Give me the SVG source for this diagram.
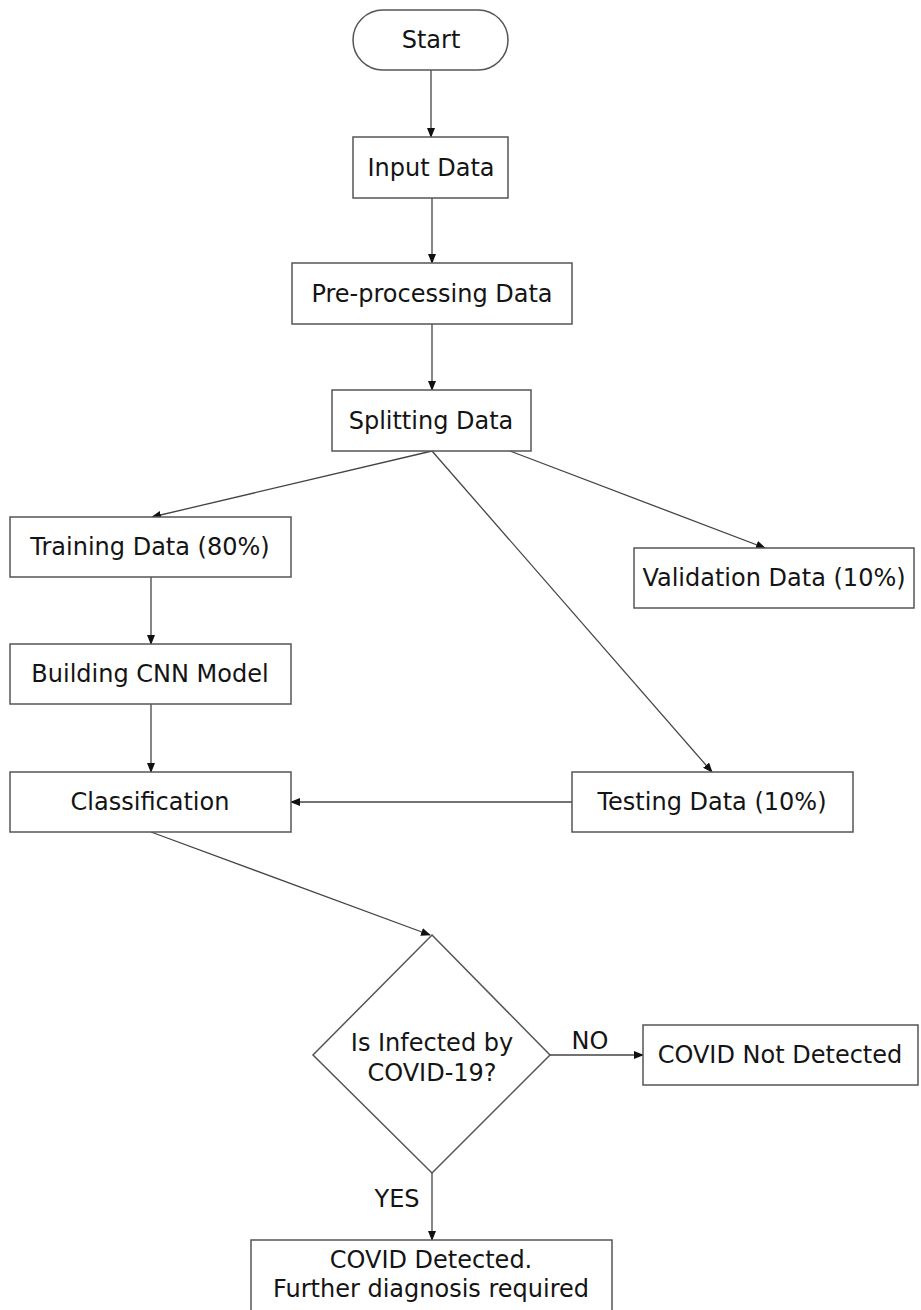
<svg xmlns="http://www.w3.org/2000/svg" width="921" height="1310" viewBox="0 0 921 1310">
<style>
.box{fill:#fff;stroke:#555;stroke-width:1.5}
.t{font-family:"DejaVu Sans","Liberation Sans",sans-serif;font-size:24px;fill:#141414;text-anchor:middle}
.c{fill:none;stroke:#444;stroke-width:1.3}
</style>
<defs>
<marker id="ah" markerUnits="userSpaceOnUse" markerWidth="10" markerHeight="8" refX="9" refY="4" orient="auto">
<path d="M0,0 L10,4 L0,8 Z" fill="#111"/>
</marker>
</defs>
<rect width="921" height="1310" fill="#fff"/>
<g id="connectors">
<line class="c" x1="431" y1="70" x2="431" y2="137" marker-end="url(#ah)"/>
<line class="c" x1="432" y1="198" x2="432" y2="263" marker-end="url(#ah)"/>
<line class="c" x1="432" y1="324" x2="432" y2="390" marker-end="url(#ah)"/>
<line class="c" x1="432" y1="451" x2="152" y2="517" marker-end="url(#ah)"/>
<line class="c" x1="510" y1="451" x2="765" y2="548" marker-end="url(#ah)"/>
<line class="c" x1="432" y1="451" x2="712" y2="772" marker-end="url(#ah)"/>
<line class="c" x1="151" y1="577" x2="151" y2="644" marker-end="url(#ah)"/>
<line class="c" x1="151" y1="704" x2="151" y2="772" marker-end="url(#ah)"/>
<line class="c" x1="572" y1="802" x2="291" y2="802" marker-end="url(#ah)"/>
<line class="c" x1="151" y1="832" x2="430" y2="935" marker-end="url(#ah)"/>
<line class="c" x1="550" y1="1055" x2="643" y2="1055" marker-end="url(#ah)"/>
<line class="c" x1="432" y1="1173" x2="432" y2="1240" marker-end="url(#ah)"/>
<text class="t" x="590" y="1049">NO</text>
<text class="t" x="397" y="1207">YES</text>
</g>
<g id="start">
<rect class="box" x="353" y="10" width="155" height="60" rx="30" ry="30"/>
<text class="t" x="431" y="48">Start</text>
</g>
<g id="input">
<rect class="box" x="353" y="137" width="155" height="61"/>
<text class="t" x="431" y="176">Input Data</text>
</g>
<g id="preprocess">
<rect class="box" x="292" y="263" width="280" height="61"/>
<text class="t" x="432" y="302">Pre-processing Data</text>
</g>
<g id="split">
<rect class="box" x="332" y="390" width="199" height="61"/>
<text class="t" x="431" y="429">Splitting Data</text>
</g>
<g id="training">
<rect class="box" x="10" y="517" width="281" height="60"/>
<text class="t" x="150" y="555">Training Data (80%)</text>
</g>
<g id="validation">
<rect class="box" x="634" y="548" width="280" height="60"/>
<text class="t" x="774" y="586">Validation Data (10%)</text>
</g>
<g id="cnn">
<rect class="box" x="10" y="644" width="281" height="60"/>
<text class="t" x="150" y="682">Building CNN Model</text>
</g>
<g id="classification">
<rect class="box" x="10" y="772" width="281" height="60"/>
<text class="t" x="150" y="810">Classification</text>
</g>
<g id="testing">
<rect class="box" x="572" y="772" width="281" height="60"/>
<text class="t" x="712" y="810">Testing Data (10%)</text>
</g>
<g id="decision">
<polygon class="box" points="432,935 550,1055 432,1173 313,1055"/>
<text class="t" x="432" y="1051">Is Infected by</text>
<text class="t" x="432" y="1081">COVID-19?</text>
</g>
<g id="notdetected">
<rect class="box" x="643" y="1025" width="275" height="60"/>
<text class="t" x="780" y="1063">COVID Not Detected</text>
</g>
<g id="detected">
<rect class="box" x="251" y="1240" width="361" height="90"/>
<text class="t" x="431" y="1268">COVID Detected.</text>
<text class="t" x="431" y="1297">Further diagnosis required</text>
</g>
</svg>
